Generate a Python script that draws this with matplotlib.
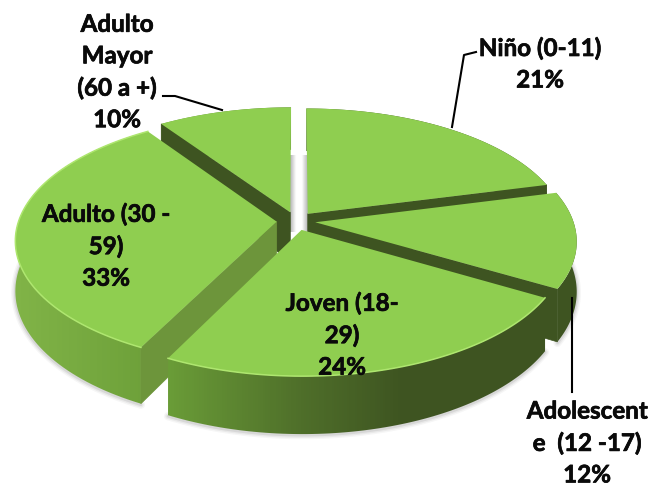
import numpy as np
import matplotlib

matplotlib.use("Agg")

import matplotlib.pyplot as plt
import matplotlib.patheffects as pe
from matplotlib.colors import LinearSegmentedColormap
from matplotlib.patches import Polygon

labels = ["Niño (0-11)", "Adolescent\ne  (12 -17)", "Joven (18-\n29)", "Adulto (30 -\n59)", "Adulto\nMayor\n(60 a +)"]
values = [21.0, 12.4, 24.0, 33.0, 9.6]

CX, CY = 296, 221
RX, RY = 258, 122.4
PERSP = 0.144
EXPLODE = 0.075
DEPTH = 49
TOP = "#8fce50"
DARK = "#3e5421"
MID = "#6d953b"

plt.rcParams["font.family"] = ["Lato", "DejaVu Sans"]


def project(u, v):
    s = 1 / (1 + PERSP * v)
    return CX + RX * u * s, CY - RY * v * s, DEPTH * s


def wedge_points(a0, a1):
    mid = np.radians((a0 + a1) / 2)
    du, dv = EXPLODE * np.sin(mid), EXPLODE * np.cos(mid)
    t = np.radians(np.linspace(a0, a1, 80))
    ax_, ay_, ad = project(du, dv)
    xs, ys, ds = project(du + np.sin(t), dv + np.cos(t))
    return (ax_, ay_, ad), xs, ys, ds


fig = plt.figure(figsize=(6.53, 4.87), dpi=100)
ax = fig.add_axes([0, 0, 1, 1])

wall_cmap = LinearSegmentedColormap.from_list(
    "wall", [(0, "#83b649"), (0.25, "#6b9e38"), (0.46, "#4f6f2a"), (0.62, DARK), (1, DARK)]
)
grad = np.linspace(0, 1, 653).reshape(1, -1)

edges = np.cumsum([0] + values) * 3.6
# back to front, cut face visible on each piece
order = [(4, "start", DARK), (0, "end", DARK), (1, "end", DARK), (3, "start", MID), (2, None, None)]

# soft shadow under the pie
for i, side, col in order:
    if i in (1, 2, 3):
        _, xs, ys, ds = wedge_points(edges[i], edges[i + 1])
        for lw, al in [(6, 0.05), (4, 0.08), (2, 0.12)]:
            ax.plot(xs, ys + ds + 1, color="#555555", lw=lw, alpha=al, solid_capstyle="round", zorder=1)

z = 2
for i, side, col in order:
    (ax_, ay_, ad), xs, ys, ds = wedge_points(edges[i], edges[i + 1])

    wall = np.r_[np.c_[xs, ys], np.c_[xs, ys + ds][::-1]]
    patch = Polygon(wall, closed=True, fc="none", ec="none", zorder=z)
    ax.add_patch(patch)
    im = ax.imshow(grad, extent=[0, 653, 487, 0], aspect="auto", cmap=wall_cmap, vmin=0, vmax=1, zorder=z + 0.1)
    im.set_clip_path(patch)

    if side:
        k = 0 if side == "start" else -1
        face = [(ax_, ay_), (xs[k], ys[k]), (xs[k], ys[k] + ds[k]), (ax_, ay_ + ad)]
        ax.add_patch(Polygon(face, closed=True, fc=col, ec=col, lw=0.5, zorder=z + 0.2))

    top = np.r_[[[ax_, ay_]], np.c_[xs, ys]]
    ax.add_patch(Polygon(top, closed=True, fc=TOP, ec="none", zorder=z + 0.3))
    if i in (3, 2):
        ax.plot(xs, ys, color="#aee66f", lw=1.1, zorder=z + 0.4)
    z += 1

# grey shading in the gap behind the two back pieces
gap = LinearSegmentedColormap.from_list("gap", ["#b5b5b5", "#ffffff", "#ffffff", "#b5b5b5"])
ax.imshow(np.linspace(0, 1, 40).reshape(1, -1), extent=[290, 308, 232, 155], aspect="auto", cmap=gap, zorder=1.5)

# leader lines
ax.plot([452, 464, 476], [127, 55, 52], color="black", lw=1.5, zorder=20)
ax.plot([572, 572], [298, 392], color="black", lw=1.5, zorder=20)
ax.plot([163, 175, 222], [96, 96, 110], color="black", lw=1.5, zorder=20)

positions = [(540, 64), (587, 443), (342, 335), (106, 246), (117, 72)]
for lab, val, (x, y) in zip(labels, values, positions):
    ax.text(x, y, f"{lab}\n{val:.0f}%", ha="center", va="center", fontsize=17.4, fontweight="bold",
            color="#0a0a0a", linespacing=1.45, zorder=30,
            path_effects=[pe.withStroke(linewidth=0.5, foreground="#0a0a0a")])

ax.set_xlim(0, 653)
ax.set_ylim(487, 0)
ax.axis("off")

fig.savefig("out.png", dpi=100)
plt.close(fig)
